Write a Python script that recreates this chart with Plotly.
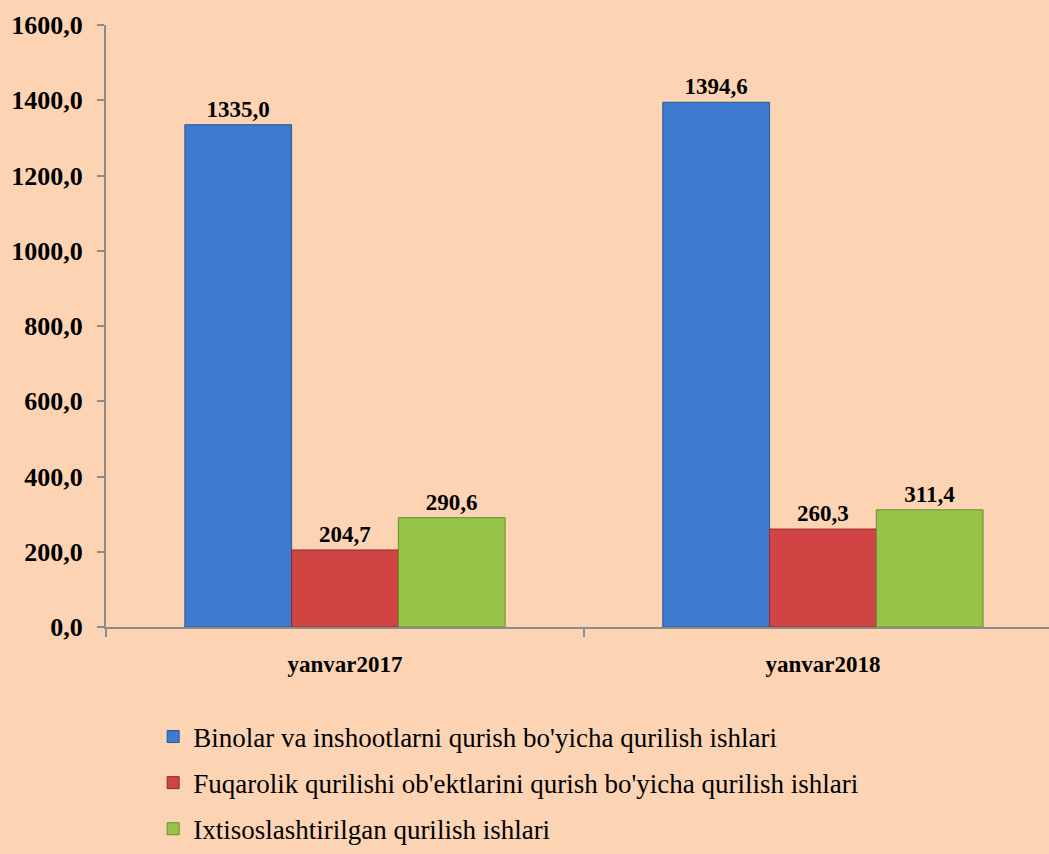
"""Construction works bar chart, yanvar 2017 vs 2018."""
import plotly.graph_objects as go

categories = ["yanvar2017", "yanvar2018"]
series_names = [
    "Binolar va inshootlarni qurish bo'yicha qurilish ishlari",
    "Fuqarolik qurilishi ob'ektlarini qurish bo'yicha qurilish ishlari",
    "Ixtisoslashtirilgan qurilish ishlari",
]
binolar = [1335.0, 1394.6]
fuqarolik = [204.7, 260.3]
ixtisos = [290.6, 311.4]
y_ticks = [0, 200, 400, 600, 800, 1000, 1200, 1400, 1600]

colors = ['#3D7AD0', '#D04444', '#96C448']
edges = ['#2B558F', '#8E2C2C', '#6A8C2E']
serif = "Liberation Serif"
bg = '#FCD4B4'

fig = go.Figure()
for i, (name, vals) in enumerate(zip(series_names, [binolar, fuqarolik, ixtisos])):
    fig.add_trace(go.Bar(
        x=categories,
        y=vals,
        name=name,
        legendgroup=f"g{i}",
        marker=dict(color=colors[i], line=dict(color=edges[i], width=1)),
        texttemplate='%{y:.1f}',
        textposition='outside',
        textfont=dict(family=serif, size=23, color='black', weight='bold'),
        cliponaxis=False,
    ))

fig.update_layout(
    width=1049,
    height=854,
    barmode='group',
    bargap=0.33,
    bargroupgap=0,
    separators=', ',
    paper_bgcolor=bg,
    plot_bgcolor=bg,
    margin=dict(l=106, r=0, t=25, b=227, autoexpand=False),
    font=dict(family=serif, color='black'),
    showlegend=True,
    legend=dict(
        x=0.05, y=-0.142, xanchor='left', yanchor='top',
        orientation='v',
        font=dict(family=serif, size=27, color='black'),
        tracegroupgap=8,
        bgcolor='rgba(0,0,0,0)',
        itemwidth=30,
    ),
)

fig.update_xaxes(
    range=[-0.5, 1.473],
    showline=True, linecolor='#8C8C8C', linewidth=2,
    ticks='outside', tickson='boundaries', ticklen=8, tickcolor='#8C8C8C', tickwidth=2,
    ticklabelstandoff=15,
    tickfont=dict(family=serif, size=23, color='black', weight='bold'),
    showgrid=False,
)
fig.update_yaxes(
    range=[0, 1600],
    tickvals=y_ticks,
    tickformat='.1f',
    showline=True, linecolor='#8C8C8C', linewidth=2,
    ticks='outside', ticklen=7, tickcolor='#8C8C8C', tickwidth=2,
    ticklabelstandoff=9,
    tickfont=dict(family=serif, size=26, color='black', weight='bold'),
    showgrid=False, zeroline=False,
)

fig.write_html(
    "out.html",
    config={'displayModeBar': False},
    post_script=f"document.body.style.margin='0';document.body.style.background='{bg}';",
)
